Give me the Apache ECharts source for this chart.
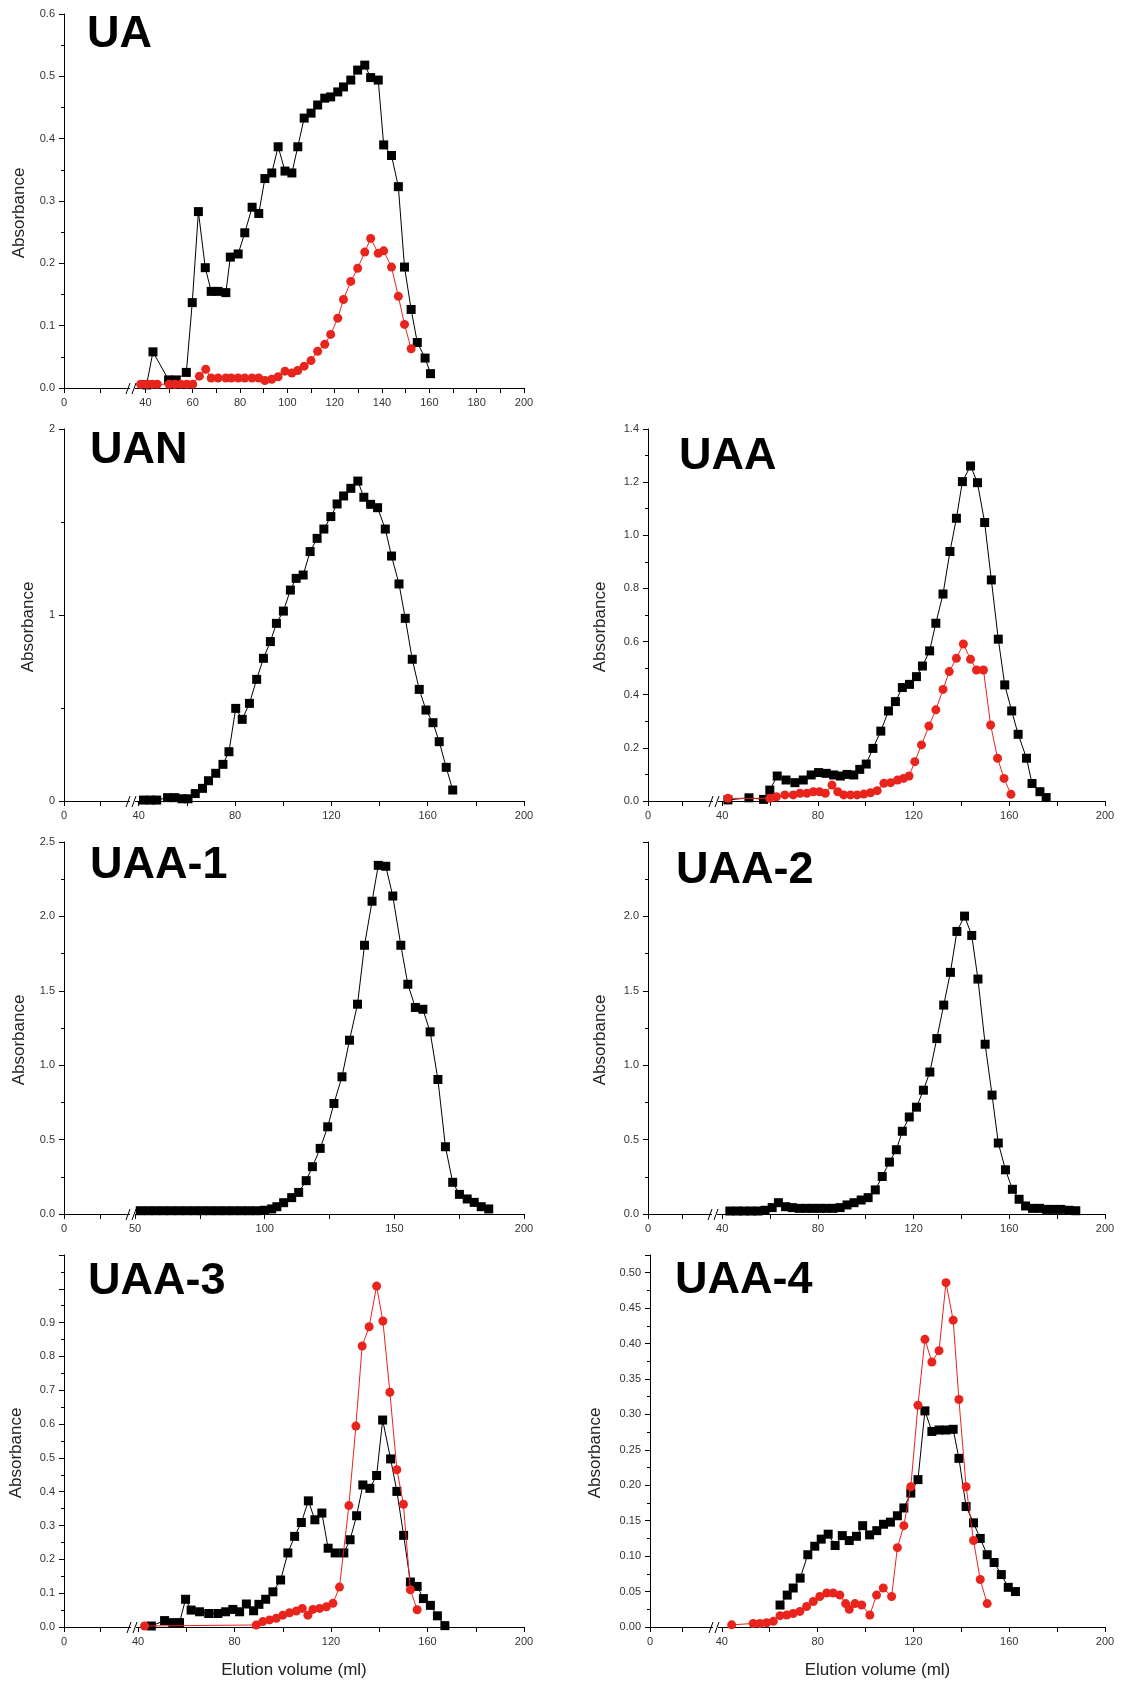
<!DOCTYPE html>
<html lang="en" style="height: 100%">
<head>
  <meta charset="utf-8">
  <title>Elution profiles</title>
</head>
<body style="height: 100%; margin: 0; background: #fff">
<div id="container" style="width: 1122px; height: 1684px"></div>
<script src="https://cdn.jsdelivr.net/npm/echarts@6/dist/echarts.min.js"></script>
<script>
// ---- data: [elution volume (ml), absorbance] ----
var uaBlack = [[40.5,0.005],[43.2,0.058],[49.8,0.013],[53,0.013],[57.3,0.025],[59.8,0.137],[62.4,0.283],[65.3,0.193],[67.8,0.155],[70.7,0.155],[74.0,0.153],[75.9,0.210],[79.2,0.215],[82.0,0.249],[85.1,0.290],[87.9,0.280],[90.5,0.336],[93.4,0.345],[96.1,0.387],[99.0,0.348],[101.9,0.345],[104.4,0.387],[107.1,0.433],[110.0,0.441],[112.8,0.454],[115.8,0.465],[118.3,0.467],[121.3,0.475],[123.7,0.483],[126.8,0.494],[129.7,0.510],[132.7,0.518],[135.2,0.498],[138.4,0.494],[140.7,0.390],[144.0,0.373],[146.9,0.323],[149.5,0.194],[152.3,0.126],[154.9,0.073],[158.2,0.048],[160.5,0.023]];
var uaRed = [[38,0.006],[40.5,0.006],[43,0.006],[45,0.006],[50,0.006],[52.5,0.006],[55,0.006],[57.5,0.006],[60,0.006],[62.8,0.019],[65.5,0.030],[67.8,0.016],[70.7,0.016],[74.0,0.016],[76.3,0.016],[79.2,0.016],[82.0,0.016],[85.1,0.016],[87.9,0.016],[90.5,0.012],[93.4,0.014],[96.1,0.018],[99.0,0.027],[101.9,0.024],[104.4,0.028],[107.1,0.035],[110.0,0.044],[112.8,0.059],[115.8,0.070],[118.3,0.086],[121.3,0.112],[123.7,0.142],[126.8,0.171],[129.7,0.192],[132.7,0.218],[135.2,0.240],[138.4,0.216],[140.7,0.220],[144.0,0.194],[146.9,0.147],[149.5,0.102],[152.3,0.063]];

var uanBlack = [[42,0.005],[45,0.005],[47.5,0.005],[52,0.018],[55,0.018],[58,0.012],[60.5,0.012],[63.5,0.04],[66.5,0.068],[69,0.109],[72,0.149],[75,0.197],[77.5,0.265],[80.3,0.498],[83,0.439],[86,0.525],[89,0.654],[91.8,0.767],[94.7,0.857],[97.2,0.955],[100.1,1.021],[103,1.134],[105.4,1.197],[108.3,1.215],[111.2,1.341],[114.1,1.412],[116.9,1.462],[119.8,1.529],[122.4,1.597],[125.1,1.640],[128.1,1.681],[131,1.720],[133.5,1.633],[136.3,1.595],[139.2,1.577],[142.4,1.462],[145,1.317],[148.1,1.167],[150.7,0.982],[153.6,0.762],[156.5,0.600],[159.3,0.489],[162.2,0.421],[164.8,0.319],[167.7,0.181],[170.4,0.059]];

var uaaBlack = [[42.4,0.004],[51.2,0.012],[57.3,0.006],[59.9,0.041],[63,0.094],[66.7,0.079],[70.4,0.069],[73.9,0.079],[77.2,0.098],[80.3,0.107],[83.5,0.104],[86.6,0.098],[89.4,0.094],[92.2,0.100],[95,0.098],[97.5,0.119],[100.2,0.139],[103,0.198],[106.3,0.263],[109.5,0.339],[112.4,0.374],[115.3,0.427],[118.3,0.439],[121.2,0.468],[123.7,0.508],[126.7,0.565],[129.3,0.669],[132.3,0.779],[135.2,0.939],[137.9,1.064],[140.4,1.202],[143.8,1.261],[146.7,1.198],[149.7,1.048],[152.5,0.832],[155.4,0.609],[158.1,0.437],[161.0,0.339],[163.7,0.251],[167.2,0.161],[169.5,0.066],[172.8,0.035],[175.4,0.013]];
var uaaRed = [[42.4,0.01],[59.9,0.01],[62.7,0.016],[66.2,0.023],[69.7,0.023],[72.5,0.029],[75.4,0.029],[78.1,0.035],[80.7,0.035],[83.1,0.029],[85.9,0.06],[88.3,0.035],[90.8,0.023],[93.6,0.023],[96.4,0.023],[99.2,0.026],[102,0.031],[104.8,0.039],[107.6,0.067],[110.4,0.069],[113.3,0.079],[115.8,0.085],[118.1,0.094],[120.5,0.148],[123.3,0.211],[126.4,0.282],[129.3,0.343],[132.3,0.420],[134.9,0.487],[137.9,0.537],[140.8,0.591],[143.8,0.533],[146.3,0.493],[149.2,0.493],[152.2,0.286],[155.1,0.161],[157.8,0.085],[160.7,0.025]];

var uaa1Black = [[52,0.022],[55,0.022],[58,0.022],[61,0.022],[64,0.022],[67,0.022],[70,0.022],[73,0.022],[76,0.022],[79,0.022],[82,0.022],[85,0.022],[88,0.022],[91,0.022],[94,0.022],[97,0.022],[100,0.025],[102.7,0.034],[104.7,0.049],[107.3,0.076],[110.4,0.110],[113.1,0.145],[116.0,0.224],[118.4,0.318],[121.4,0.441],[124.3,0.586],[126.7,0.743],[129.8,0.922],[132.7,1.168],[135.8,1.410],[138.5,1.806],[141.4,2.102],[143.8,2.343],[146.7,2.337],[149.4,2.137],[152.5,1.806],[155.2,1.544],[158.1,1.388],[161.0,1.376],[163.8,1.224],[166.8,0.904],[169.7,0.452],[172.5,0.213],[175.1,0.132],[178.1,0.101],[180.8,0.078],[183.5,0.049],[186.4,0.034]];

var uaa2Black = [[43.2,0.02],[46.2,0.02],[49.1,0.02],[52.1,0.02],[55,0.02],[57.9,0.025],[60.9,0.043],[63.5,0.076],[66.5,0.049],[69.3,0.043],[72.2,0.038],[75.1,0.038],[77.8,0.038],[80.7,0.038],[83.4,0.038],[86.3,0.038],[89.3,0.043],[92.2,0.061],[95.1,0.076],[98.1,0.094],[101.0,0.110],[104.0,0.162],[106.9,0.252],[109.9,0.349],[112.8,0.432],[115.3,0.556],[118.2,0.652],[121.2,0.718],[124.1,0.832],[126.8,0.954],[129.7,1.179],[132.6,1.404],[135.4,1.624],[138.1,1.899],[141.3,2.002],[144.3,1.872],[146.9,1.579],[149.9,1.141],[152.8,0.799],[155.4,0.477],[158.4,0.297],[161.3,0.166],[164.1,0.099],[166.8,0.054],[169.7,0.038],[172.6,0.038],[175.6,0.031],[178.5,0.031],[181.5,0.031],[184.9,0.025],[187.8,0.022]];

var uaa3Black = [[45.5,0.003],[51,0.019],[54.4,0.013],[57.2,0.013],[59.7,0.082],[62,0.05],[65.5,0.045],[69.3,0.04],[73.1,0.04],[76.3,0.045],[79.3,0.052],[82.1,0.045],[84.9,0.068],[87.9,0.048],[90.1,0.067],[92.9,0.082],[95.9,0.104],[99.1,0.139],[102.1,0.219],[104.9,0.268],[107.7,0.309],[110.6,0.373],[113.3,0.317],[116.2,0.337],[118.8,0.233],[121.7,0.219],[125.3,0.219],[127.9,0.258],[130.6,0.329],[133.2,0.420],[136.1,0.410],[138.9,0.448],[141.4,0.612],[144.7,0.497],[147.3,0.401],[150.1,0.271],[152.9,0.133],[155.7,0.120],[158.3,0.084],[161.2,0.064],[164.1,0.033],[167.2,0.004]];
var uaa3Red = [[42.7,0.003],[89,0.006],[91.7,0.016],[94.5,0.021],[97.3,0.026],[100,0.035],[102.8,0.042],[105.6,0.047],[108.1,0.055],[110.4,0.035],[112.5,0.052],[115.3,0.055],[118.1,0.06],[120.8,0.07],[123.5,0.118],[127.4,0.359],[130.3,0.594],[132.9,0.831],[135.8,0.888],[138.9,1.008],[141.5,0.905],[144.4,0.694],[147.3,0.465],[150.0,0.363],[152.9,0.110],[155.7,0.051]];

var uaa4Black = [[64.3,0.031],[67.3,0.045],[69.8,0.055],[72.7,0.069],[75.9,0.102],[78.8,0.114],[81.5,0.124],[84.4,0.131],[87.3,0.115],[90.3,0.129],[93.2,0.122],[96.2,0.128],[98.8,0.143],[101.7,0.130],[104.7,0.136],[107.5,0.145],[110.4,0.148],[113.3,0.157],[116.0,0.168],[118.9,0.189],[121.9,0.208],[124.8,0.305],[127.7,0.276],[130.7,0.278],[133.6,0.278],[136.6,0.279],[139.0,0.238],[142.0,0.170],[145.1,0.147],[147.9,0.125],[150.8,0.102],[153.7,0.091],[156.7,0.074],[159.6,0.056],[162.6,0.050]];
var uaa4Red = [[44.1,0.003],[53.1,0.005],[55.9,0.005],[58.7,0.006],[61.5,0.008],[64.3,0.016],[67.1,0.017],[69.8,0.019],[72.6,0.022],[75.4,0.029],[78.2,0.036],[80.9,0.043],[83.8,0.048],[86.5,0.048],[89.3,0.045],[91.7,0.033],[93.2,0.025],[95.6,0.033],[98.4,0.031],[101.8,0.017],[104.6,0.045],[107.4,0.055],[110.9,0.043],[113.3,0.112],[116.0,0.143],[118.9,0.198],[121.9,0.313],[124.8,0.406],[127.7,0.374],[130.7,0.390],[133.6,0.486],[136.6,0.433],[139.0,0.321],[142.0,0.198],[145.1,0.122],[147.9,0.067],[150.8,0.033]];

// ---- x tick / label positions (first value = left end of the broken axis, shown as "0") ----
var uaXLabels = [5.6, 40, 60, 80, 100, 120, 140, 160, 180, 200];
var uaXTicks = [5.6, 21, 40, 50, 60, 70, 80, 90, 100, 110, 120, 130, 140, 150, 160, 170, 180, 190, 200];
var uanXLabels = [9, 40, 80, 120, 160, 200];
var uanXTicks = [9, 24, 40, 60, 80, 100, 120, 140, 160, 180, 200];
var uaaXLabels = [9, 40, 80, 120, 160, 200];
var uaaXTicks = [9, 23.2, 40, 60, 80, 100, 120, 140, 160, 180, 200];
var uaa1XLabels = [22.6, 50, 100, 150, 200];
var uaa1XTicks = [22.6, 36.7, 50, 75, 100, 125, 150, 175, 200];
var uaa2XLabels = [9, 40, 80, 120, 160, 200];
var uaa2XTicks = [9, 23.4, 40, 60, 80, 100, 120, 140, 160, 180, 200];
var uaa3XLabels = [9.3, 40, 80, 120, 160, 200];
var uaa3XTicks = [9.3, 24.5, 40, 60, 80, 100, 120, 140, 160, 180, 200];
var uaa4XLabels = [10, 40, 80, 120, 160, 200];
var uaa4XTicks = [10, 23.4, 40, 60, 80, 100, 120, 140, 160, 180, 200];

var FONT = '"Liberation Sans", Arial, sans-serif';
var RED = '#e8241d';

var panels = [
  { title: 'UA', tl: [87, 12], grid: { left: 64, top: 14, width: 460, height: 374 },
    xmin: 5.6, xl: uaXLabels, xt: uaXTicks, brk: 34.6,
    ymax: 0.6, ystep: 0.1, ylabMax: 0.6, dig: 1, gap: 36, black: uaBlack, red: uaRed },
  { title: 'UAN', tl: [90, 428], grid: { left: 64, top: 429, width: 460, height: 372 },
    xmin: 9, xl: uanXLabels, xt: uanXTicks, brk: 37.8,
    ymax: 2, ystep: 1, ylabMax: 2, dig: 0, gap: 27, black: uanBlack },
  { title: 'UAA', tl: [679, 434], grid: { left: 648, top: 429, width: 457, height: 372 },
    xmin: 9, xl: uaaXLabels, xt: uaaXTicks, brk: 37.4,
    ymax: 1.4, ystep: 0.2, ylabMax: 1.4, dig: 1, gap: 39, black: uaaBlack, red: uaaRed },
  { title: 'UAA-1', tl: [90, 843], grid: { left: 64, top: 842, width: 460, height: 372 },
    xmin: 22.6, xl: uaa1XLabels, xt: uaa1XTicks, brk: 49.3,
    ymax: 2.5, ystep: 0.5, ylabMax: 2.5, dig: 1, gap: 36, black: uaa1Black },
  { title: 'UAA-2', tl: [676, 848], grid: { left: 648, top: 842, width: 457, height: 372 },
    xmin: 9, xl: uaa2XLabels, xt: uaa2XTicks, brk: 37.2,
    ymax: 2.5, ystep: 0.5, ylabMax: 2.0, dig: 1, gap: 39, black: uaa2Black },
  { title: 'UAA-3', tl: [88, 1259], grid: { left: 64, top: 1255, width: 460, height: 372 },
    xmin: 9.3, xl: uaa3XLabels, xt: uaa3XTicks, brk: 38.2,
    ymax: 1.1, ystep: 0.1, ylabMax: 0.9, dig: 1, gap: 39, black: uaa3Black, red: uaa3Red,
    xname: 'Elution volume (ml)' },
  { title: 'UAA-4', tl: [675, 1258], grid: { left: 650, top: 1255, width: 455, height: 372 },
    xmin: 10, xl: uaa4XLabels, xt: uaa4XTicks, brk: 37.6,
    ymax: 0.525, ystep: 0.05, ylabMax: 0.5, dig: 2, gap: 46, black: uaa4Black, red: uaa4Red,
    xname: 'Elution volume (ml)' }
];

var dom = document.getElementById('container');
var myChart = echarts.init(dom, null, { renderer: 'canvas' });

var option = {
  animation: false,
  backgroundColor: '#fff',
  title: [], grid: [], xAxis: [], yAxis: [], series: []
};

panels.forEach(function (p, i) {
  option.title.push({
    text: p.title, left: p.tl[0], top: p.tl[1], padding: 0,
    textStyle: { fontFamily: FONT, fontSize: 45, fontWeight: 'bold', color: '#000' }
  });
  option.grid.push({ left: p.grid.left, top: p.grid.top, width: p.grid.width, height: p.grid.height });
  option.xAxis.push({
    type: 'value', gridIndex: i, min: p.xmin, max: 200,
    name: p.xname || '', nameLocation: 'middle', nameGap: 35,
    nameTextStyle: { fontFamily: FONT, fontSize: 17, color: '#222' },
    axisLine: { show: true, onZero: false, lineStyle: { color: '#000', width: 1 } },
    axisTick: { show: true, customValues: p.xt, length: 5, lineStyle: { color: '#000' } },
    axisLabel: {
      customValues: p.xl, margin: 9, fontFamily: FONT, fontSize: 11, color: '#333',
      formatter: function (v) { return v === p.xmin ? '0' : String(v); }
    },
    splitLine: { show: false }
  });
  option.yAxis.push({
    type: 'value', gridIndex: i, min: 0, max: p.ymax, interval: p.ystep,
    name: 'Absorbance', nameLocation: 'middle', nameGap: p.gap,
    nameTextStyle: { fontFamily: FONT, fontSize: 17, color: '#222', padding: [0, 24, 0, 0] },
    axisLine: { show: true, onZero: false, lineStyle: { color: '#000', width: 1 } },
    axisTick: { show: true, length: 5, lineStyle: { color: '#000' } },
    minorTick: { show: true, splitNumber: 2, length: 3, lineStyle: { color: '#000' } },
    axisLabel: {
      margin: 9, fontFamily: FONT, fontSize: 11, color: '#333',
      formatter: function (v) { return v > p.ylabMax + 1e-6 ? '' : v.toFixed(p.dig); }
    },
    splitLine: { show: false }
  });
  option.series.push({
    type: 'line', xAxisIndex: i, yAxisIndex: i, data: p.black,
    symbol: 'rect', symbolSize: 9, itemStyle: { color: '#000' },
    lineStyle: { color: '#000', width: 1 }, z: 2
  });
  if (p.red) {
    option.series.push({
      type: 'line', xAxisIndex: i, yAxisIndex: i, data: p.red,
      symbol: 'circle', symbolSize: 9, itemStyle: { color: RED },
      lineStyle: { color: RED, width: 1 }, z: 3
    });
  }
});

myChart.setOption(option);

// "//" axis-break marks on each x axis
var marks = [];
panels.forEach(function (p, i) {
  var px = myChart.convertToPixel({ xAxisIndex: i }, p.brk);
  var py = myChart.convertToPixel({ yAxisIndex: i }, 0);
  marks.push({
    type: 'group', x: Math.round(px), y: Math.round(py), z: 100,
    children: [
      { type: 'rect', shape: { x: -3, y: -2, width: 5, height: 4 }, style: { fill: '#fff' }, z: 100 },
      { type: 'line', shape: { x1: -7, y1: 6, x2: -3, y2: -5 }, style: { stroke: '#000', lineWidth: 1 }, z: 101 },
      { type: 'line', shape: { x1: -1, y1: 6, x2: 3, y2: -5 }, style: { stroke: '#000', lineWidth: 1 }, z: 101 }
    ]
  });
});
myChart.setOption({ graphic: marks });

window.addEventListener('resize', myChart.resize);
</script>
</body>
</html>
